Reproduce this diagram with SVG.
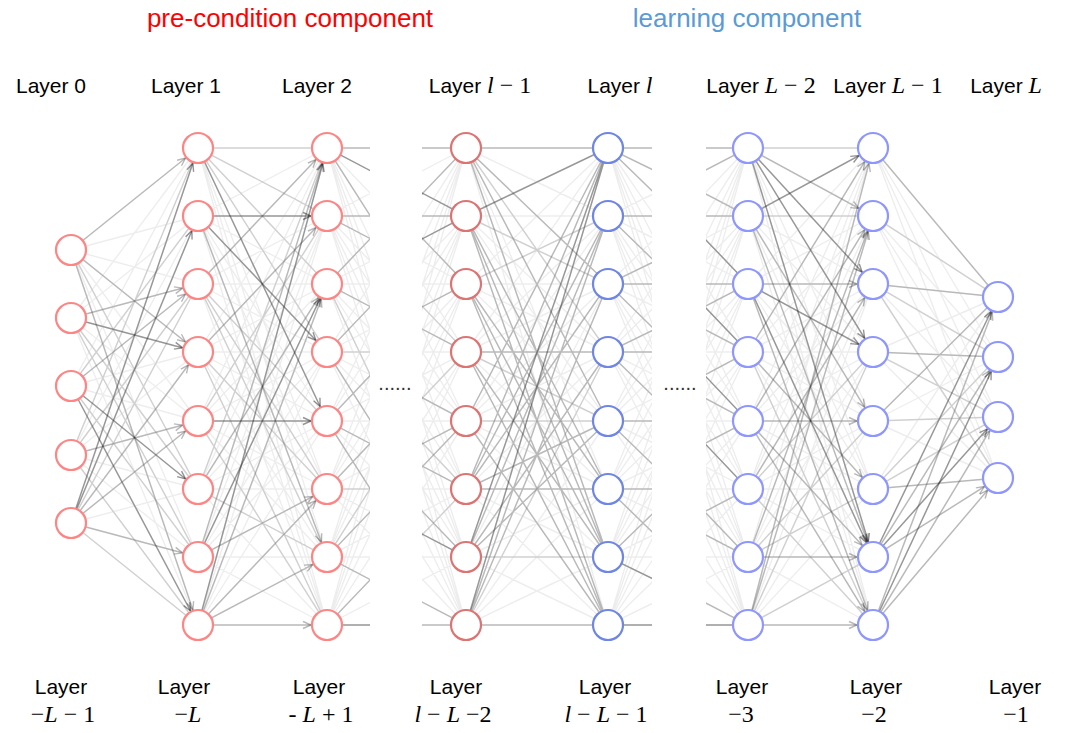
<svg xmlns="http://www.w3.org/2000/svg" xmlns:xlink="http://www.w3.org/1999/xlink" width="1080" height="733" viewBox="0 0 1080 733">
<style>
.t{font-family:"Liberation Sans",Arial,sans-serif;font-size:21px;fill:#000;text-anchor:middle}
.h{font-family:"Liberation Sans",Arial,sans-serif;font-size:26px;text-anchor:middle}
.v{font-family:"Liberation Serif","Times New Roman",serif;font-style:italic;font-size:24px}
.n{font-family:"Liberation Serif","Times New Roman",serif;font-size:24px}
.dots{font-family:"Liberation Sans",Arial,sans-serif;font-size:20px;fill:#333;text-anchor:middle}
.c path{fill:none;stroke:#000;stroke-width:1.5}
.e1{stroke-opacity:.12}
.e2,.a2{stroke-opacity:.22}
.e3,.a3{stroke-opacity:.36}
.a2{marker-end:url(#m2)}
.a3{marker-end:url(#m3)}
.node circle{fill:#fff;stroke-width:2.2}
.r circle{stroke:#ff8585}
.r2 circle{stroke:#dd7474}
.b circle{stroke:#8e96ff}
.b2 circle{stroke:#6f86e4}
</style>
<defs>
<marker id="m2" viewBox="0 0 32 10" markerWidth="32" markerHeight="10" refX="31" refY="5" orient="auto" markerUnits="userSpaceOnUse"><path d="M7,1.5L15,5L7,8.5" fill="none" stroke="#000" stroke-opacity=".28" stroke-width="1.4"/></marker>
<marker id="m3" viewBox="0 0 32 10" markerWidth="32" markerHeight="10" refX="31" refY="5" orient="auto" markerUnits="userSpaceOnUse"><path d="M7,1.5L15,5L7,8.5" fill="none" stroke="#000" stroke-opacity=".42" stroke-width="1.4"/></marker>
<path id="k88" fill="none" stroke="#000" stroke-opacity=".07" stroke-width="1.4" vector-effect="non-scaling-stroke" d="M0 148L100 148M0 148L100 216M0 148L100 284M0 148L100 352M0 148L100 421M0 148L100 489M0 148L100 557M0 148L100 625M0 216L100 148M0 216L100 216M0 216L100 284M0 216L100 352M0 216L100 421M0 216L100 489M0 216L100 557M0 216L100 625M0 284L100 148M0 284L100 216M0 284L100 284M0 284L100 352M0 284L100 421M0 284L100 489M0 284L100 557M0 284L100 625M0 352L100 148M0 352L100 216M0 352L100 284M0 352L100 352M0 352L100 421M0 352L100 489M0 352L100 557M0 352L100 625M0 421L100 148M0 421L100 216M0 421L100 284M0 421L100 352M0 421L100 421M0 421L100 489M0 421L100 557M0 421L100 625M0 489L100 148M0 489L100 216M0 489L100 284M0 489L100 352M0 489L100 421M0 489L100 489M0 489L100 557M0 489L100 625M0 557L100 148M0 557L100 216M0 557L100 284M0 557L100 352M0 557L100 421M0 557L100 489M0 557L100 557M0 557L100 625M0 625L100 148M0 625L100 216M0 625L100 284M0 625L100 352M0 625L100 421M0 625L100 489M0 625L100 557M0 625L100 625"/>
<path id="k58" fill="none" stroke="#000" stroke-opacity=".07" stroke-width="1.4" vector-effect="non-scaling-stroke" d="M0 250L100 148M0 250L100 216M0 250L100 284M0 250L100 352M0 250L100 421M0 250L100 489M0 250L100 557M0 250L100 625M0 318L100 148M0 318L100 216M0 318L100 284M0 318L100 352M0 318L100 421M0 318L100 489M0 318L100 557M0 318L100 625M0 386L100 148M0 386L100 216M0 386L100 284M0 386L100 352M0 386L100 421M0 386L100 489M0 386L100 557M0 386L100 625M0 455L100 148M0 455L100 216M0 455L100 284M0 455L100 352M0 455L100 421M0 455L100 489M0 455L100 557M0 455L100 625M0 523L100 148M0 523L100 216M0 523L100 284M0 523L100 352M0 523L100 421M0 523L100 489M0 523L100 557M0 523L100 625"/>
<path id="k84" fill="none" stroke="#000" stroke-opacity=".07" stroke-width="1.4" vector-effect="non-scaling-stroke" d="M0 148L100 297M0 148L100 357M0 148L100 417M0 148L100 478M0 216L100 297M0 216L100 357M0 216L100 417M0 216L100 478M0 284L100 297M0 284L100 357M0 284L100 417M0 284L100 478M0 352L100 297M0 352L100 357M0 352L100 417M0 352L100 478M0 421L100 297M0 421L100 357M0 421L100 417M0 421L100 478M0 489L100 297M0 489L100 357M0 489L100 417M0 489L100 478M0 557L100 297M0 557L100 357M0 557L100 417M0 557L100 478M0 625L100 297M0 625L100 357M0 625L100 417M0 625L100 478"/>
<clipPath id="cA"><rect x="327" y="0" width="43" height="733"/></clipPath>
<clipPath id="cB"><rect x="422" y="0" width="60" height="733"/></clipPath>
<clipPath id="cC"><rect x="608" y="0" width="44" height="733"/></clipPath>
<clipPath id="cD"><rect x="706" y="0" width="50" height="733"/></clipPath>
</defs>
<rect width="1080" height="733" fill="#fff"/>

<g id="titles">
<text class="h" x="290" y="27" fill="#ff0000">pre-condition component</text>
<text class="h" x="747" y="27" fill="#5b9bd5">learning component</text>
</g>

<g id="layer-labels-top">
<text class="t" x="51" y="93">Layer 0</text>
<text class="t" x="186" y="93">Layer 1</text>
<text class="t" x="317" y="93">Layer 2</text>
<text class="t" x="480" y="93">Layer <tspan class="v">l</tspan><tspan class="n"> − 1</tspan></text>
<text class="t" x="620" y="93">Layer <tspan class="v">l</tspan></text>
<text class="t" x="761" y="93">Layer <tspan class="v">L</tspan><tspan class="n"> − 2</tspan></text>
<text class="t" x="888" y="93">Layer <tspan class="v">L</tspan><tspan class="n"> − 1</tspan></text>
<text class="t" x="1006" y="93">Layer <tspan class="v">L</tspan></text>
</g>

<g id="connectors" class="c">
<use xlink:href="#k58" href="#k58" transform="translate(71,0) scale(1.27,1)"/>
<use xlink:href="#k88" href="#k88" transform="translate(198,0) scale(1.29,1)"/>
<use xlink:href="#k88" href="#k88" transform="translate(466,0) scale(1.42,1)"/>
<use xlink:href="#k88" href="#k88" transform="translate(748,0) scale(1.25,1)"/>
<use xlink:href="#k84" href="#k84" transform="translate(873,0) scale(1.25,1)"/>
<g clip-path="url(#cA)">
<use xlink:href="#k88" href="#k88" transform="translate(327,0) scale(1.3,1)"/>
<path class="e3" d="M327 148L457 216M327 625L457 625"/>
<path class="e2" d="M327 148L457 352M327 216L457 216M327 216L457 284M327 284L457 148M327 284L457 352M327 352L457 216M327 421L457 284M327 421L457 489M327 489L457 352M327 557L457 625M327 557L457 421M327 625L457 489M327 352L457 557M327 421L457 625M327 148L457 148"/>
<path class="e1" d="M327 352L457 352M327 489L457 489M327 284L457 557M327 557L457 352"/>
</g>
<g clip-path="url(#cB)">
<use xlink:href="#k88" href="#k88" transform="translate(336,0) scale(1.3,1)"/>
<path class="e3" d="M336 284L466 216M336 148L466 216M336 489L466 557"/>
<path class="e2" d="M336 284L466 148M336 148L466 148M336 216L466 216M336 352L466 284M336 284L466 352M336 557L466 421M336 421L466 557M336 625L466 625M336 557L466 625M336 421L466 489M336 489L466 421M336 352L466 421M336 148L466 284"/>
<path class="e1" d="M336 216L466 352M336 489L466 352M336 625L466 489M336 352L466 489"/>
</g>
<g clip-path="url(#cC)">
<use xlink:href="#k88" href="#k88" transform="translate(608,0) scale(1.4,1)"/>
<path class="e3" d="M608 625L748 625M608 557L748 625"/>
<path class="e2" d="M608 148L748 148M608 148L748 216M608 148L748 284M608 216L748 216M608 216L748 352M608 284L748 216M608 284L748 421M608 352L748 352M608 352L748 489M608 421L748 421M608 421L748 557M608 489L748 489M608 489L748 625M608 557L748 421M608 284L748 284M608 352L748 284"/>
</g>
<g clip-path="url(#cD)">
<use xlink:href="#k88" href="#k88" transform="translate(618,0) scale(1.3,1)"/>
<path class="e3" d="M618 148L748 284M618 216L748 352M618 284L748 421M618 625L748 625M618 352L748 489"/>
<path class="e2" d="M618 148L748 148M618 216L748 148M618 148L748 216M618 216L748 216M618 284L748 284M618 352L748 284M618 284L748 352M618 421L748 352M618 352L748 421M618 489L748 421M618 421L748 557M618 557L748 489M618 489L748 557M618 557L748 625"/>
</g>

<!-- layer 0 -> layer 1 -->
<path class="e1" d="M71 386L198 216M71 455L198 148M71 455L198 284M71 318L198 489M71 318L198 557M71 250L198 489M71 455L198 625M71 386L198 557M71 523L198 284M71 523L198 625"/>
<path class="a2" d="M71 250L198 148"/>
<path class="a2" d="M71 318L198 284"/>
<path class="a2" d="M71 455L198 421"/>
<path class="a2" d="M71 523L198 421"/>
<path class="a2" d="M71 523L198 557"/>
<path class="a2" d="M71 250L198 625"/>
<path class="a2" d="M71 250L198 352"/>
<path class="a2" d="M71 386L198 284"/>
<path class="a2" d="M71 523L198 352"/>
<path class="a3" d="M71 318L198 352"/>
<path class="a3" d="M71 523L198 148"/>
<path class="a3" d="M71 386L198 489"/>
<path class="a3" d="M71 386L198 625"/>
<path class="a3" d="M71 523L198 216"/>

<!-- layer 1 -> layer 2 -->
<path class="e1" d="M198 148L327 148M198 148L327 216M198 148L327 284M198 148L327 352M198 489L327 148M198 284L327 489M198 284L327 557M198 352L327 625M198 489L327 557M198 421L327 625M198 421L327 216M198 352L327 489M198 284L327 421"/>
<path class="a2" d="M198 625L327 625"/>
<path class="a2" d="M198 625L327 489"/>
<path class="a2" d="M198 625L327 557"/>
<path class="a2" d="M198 557L327 489"/>
<path class="a2" d="M198 284L327 148"/>
<path class="a2" d="M198 352L327 216"/>
<path class="a2" d="M198 557L327 148"/>
<path class="a2" d="M198 489L327 284"/>
<path class="a2" d="M198 625L327 284"/>
<path class="a2" d="M198 216L327 557"/>
<path class="a3" d="M198 216L327 216"/>
<path class="a3" d="M198 216L327 352"/>
<path class="a3" d="M198 148L327 421"/>
<path class="a3" d="M198 421L327 421"/>
<path class="a3" d="M198 625L327 148"/>
<path class="a3" d="M198 557L327 284"/>

<!-- layer l-1 -> layer l -->
<path class="e1" d="M466 421L608 421M466 557L608 557M466 148L608 352M466 216L608 284M466 625L608 352M466 284L608 216M466 352L608 421"/>
<path class="e2" d="M466 148L608 148M466 352L608 352M466 489L608 489M466 489L608 421M466 625L608 625M466 148L608 421M466 148L608 284M466 148L608 557M466 216L608 557M466 216L608 625M466 284L608 557M466 284L608 625M466 352L608 557M466 489L608 148M466 557L608 216M466 625L608 284M466 421L608 148M466 557L608 352M466 352L608 625M466 421L608 625M466 489L608 284M466 284L608 489M466 216L608 489M466 557L608 421M466 625L608 216M466 489L608 216"/>
<path class="e3" d="M466 216L608 148M466 625L608 148M466 557L608 148"/>

<!-- layer L-2 -> layer L-1 -->
<path class="e1" d="M748 148L873 148M748 216L873 216M748 489L873 352M748 557L873 421M748 625L873 557M748 557L873 489M748 625L873 352M748 352L873 625M748 489L873 625"/>
<path class="a2" d="M748 148L873 216"/>
<path class="a2" d="M748 284L873 284"/>
<path class="a2" d="M748 421L873 421"/>
<path class="a2" d="M748 557L873 557"/>
<path class="a2" d="M748 625L873 625"/>
<path class="a2" d="M748 625L873 148"/>
<path class="a2" d="M748 557L873 216"/>
<path class="a2" d="M748 625L873 216"/>
<path class="a2" d="M748 421L873 216"/>
<path class="a2" d="M748 352L873 148"/>
<path class="a2" d="M748 216L873 421"/>
<path class="a2" d="M748 352L873 489"/>
<path class="a2" d="M748 216L873 557"/>
<path class="a2" d="M748 421L873 557"/>
<path class="a2" d="M748 284L873 625"/>
<path class="a2" d="M748 421L873 625"/>
<path class="a2" d="M748 489L873 284"/>
<path class="a3" d="M748 216L873 148"/>
<path class="a3" d="M748 148L873 284"/>
<path class="a3" d="M748 148L873 352"/>
<path class="a3" d="M748 148L873 557"/>
<path class="a3" d="M748 284L873 352"/>
<path class="a3" d="M748 284L873 557"/>

<!-- layer L-1 -> layer L -->
<path class="e1" d="M873 421L998 417M873 216L998 297M873 489L998 417M873 352L998 417M873 284L998 357M873 489L998 357M873 284L998 478"/>
<path class="e2" d="M873 148L998 297M873 284L998 297M873 352L998 357M873 489L998 478M873 421L998 297"/>
<path class="a2" d="M873 557L998 478"/>
<path class="a2" d="M873 625L998 417"/>
<path class="a2" d="M873 625L998 478"/>
<path class="a2" d="M873 625L998 297"/>
<path class="a2" d="M873 557L998 357"/>
<path class="a3" d="M873 557L998 297"/>
<path class="a3" d="M873 557L998 417"/>
<path class="a3" d="M873 625L998 357"/>
</g>

<g id="nodes">
<g id="n0-0" class="node r"><circle cx="71" cy="250" r="15"/></g>
<g id="n0-1" class="node r"><circle cx="71" cy="318" r="15"/></g>
<g id="n0-2" class="node r"><circle cx="71" cy="386" r="15"/></g>
<g id="n0-3" class="node r"><circle cx="71" cy="455" r="15"/></g>
<g id="n0-4" class="node r"><circle cx="71" cy="523" r="15"/></g>

<g id="n1-0" class="node r"><circle cx="198" cy="148" r="15"/></g>
<g id="n1-1" class="node r"><circle cx="198" cy="216" r="15"/></g>
<g id="n1-2" class="node r"><circle cx="198" cy="284" r="15"/></g>
<g id="n1-3" class="node r"><circle cx="198" cy="352" r="15"/></g>
<g id="n1-4" class="node r"><circle cx="198" cy="421" r="15"/></g>
<g id="n1-5" class="node r"><circle cx="198" cy="489" r="15"/></g>
<g id="n1-6" class="node r"><circle cx="198" cy="557" r="15"/></g>
<g id="n1-7" class="node r"><circle cx="198" cy="625" r="15"/></g>

<g id="n2-0" class="node r"><circle cx="327" cy="148" r="15"/></g>
<g id="n2-1" class="node r"><circle cx="327" cy="216" r="15"/></g>
<g id="n2-2" class="node r"><circle cx="327" cy="284" r="15"/></g>
<g id="n2-3" class="node r"><circle cx="327" cy="352" r="15"/></g>
<g id="n2-4" class="node r"><circle cx="327" cy="421" r="15"/></g>
<g id="n2-5" class="node r"><circle cx="327" cy="489" r="15"/></g>
<g id="n2-6" class="node r"><circle cx="327" cy="557" r="15"/></g>
<g id="n2-7" class="node r"><circle cx="327" cy="625" r="15"/></g>

<g id="nl1-0" class="node r2"><circle cx="466" cy="148" r="15"/></g>
<g id="nl1-1" class="node r2"><circle cx="466" cy="216" r="15"/></g>
<g id="nl1-2" class="node r2"><circle cx="466" cy="284" r="15"/></g>
<g id="nl1-3" class="node r2"><circle cx="466" cy="352" r="15"/></g>
<g id="nl1-4" class="node r2"><circle cx="466" cy="421" r="15"/></g>
<g id="nl1-5" class="node r2"><circle cx="466" cy="489" r="15"/></g>
<g id="nl1-6" class="node r2"><circle cx="466" cy="557" r="15"/></g>
<g id="nl1-7" class="node r2"><circle cx="466" cy="625" r="15"/></g>

<g id="nl-0" class="node b2"><circle cx="608" cy="148" r="15"/></g>
<g id="nl-1" class="node b2"><circle cx="608" cy="216" r="15"/></g>
<g id="nl-2" class="node b2"><circle cx="608" cy="284" r="15"/></g>
<g id="nl-3" class="node b2"><circle cx="608" cy="352" r="15"/></g>
<g id="nl-4" class="node b2"><circle cx="608" cy="421" r="15"/></g>
<g id="nl-5" class="node b2"><circle cx="608" cy="489" r="15"/></g>
<g id="nl-6" class="node b2"><circle cx="608" cy="557" r="15"/></g>
<g id="nl-7" class="node b2"><circle cx="608" cy="625" r="15"/></g>

<g id="nL2-0" class="node b"><circle cx="748" cy="148" r="15"/></g>
<g id="nL2-1" class="node b"><circle cx="748" cy="216" r="15"/></g>
<g id="nL2-2" class="node b"><circle cx="748" cy="284" r="15"/></g>
<g id="nL2-3" class="node b"><circle cx="748" cy="352" r="15"/></g>
<g id="nL2-4" class="node b"><circle cx="748" cy="421" r="15"/></g>
<g id="nL2-5" class="node b"><circle cx="748" cy="489" r="15"/></g>
<g id="nL2-6" class="node b"><circle cx="748" cy="557" r="15"/></g>
<g id="nL2-7" class="node b"><circle cx="748" cy="625" r="15"/></g>

<g id="nL1-0" class="node b"><circle cx="873" cy="148" r="15"/></g>
<g id="nL1-1" class="node b"><circle cx="873" cy="216" r="15"/></g>
<g id="nL1-2" class="node b"><circle cx="873" cy="284" r="15"/></g>
<g id="nL1-3" class="node b"><circle cx="873" cy="352" r="15"/></g>
<g id="nL1-4" class="node b"><circle cx="873" cy="421" r="15"/></g>
<g id="nL1-5" class="node b"><circle cx="873" cy="489" r="15"/></g>
<g id="nL1-6" class="node b"><circle cx="873" cy="557" r="15"/></g>
<g id="nL1-7" class="node b"><circle cx="873" cy="625" r="15"/></g>

<g id="nL-0" class="node b"><circle cx="998" cy="297" r="15"/></g>
<g id="nL-1" class="node b"><circle cx="998" cy="357" r="15"/></g>
<g id="nL-2" class="node b"><circle cx="998" cy="417" r="15"/></g>
<g id="nL-3" class="node b"><circle cx="998" cy="478" r="15"/></g>
</g>

<g id="ellipses">
<text class="dots" x="395" y="390">......</text>
<text class="dots" x="680" y="390">......</text>
</g>

<g id="layer-labels-bottom">
<text class="t" x="61" y="694">Layer</text>
<text class="t" x="63" y="722"><tspan class="n">−</tspan><tspan class="v">L</tspan><tspan class="n"> − 1</tspan></text>
<text class="t" x="184" y="694">Layer</text>
<text class="t" x="188" y="722"><tspan class="n">−</tspan><tspan class="v">L</tspan></text>
<text class="t" x="319" y="694">Layer</text>
<text class="t" x="321" y="722"><tspan class="n">- </tspan><tspan class="v">L</tspan><tspan class="n"> + 1</tspan></text>
<text class="t" x="456" y="694">Layer</text>
<text class="t" x="453" y="722"><tspan class="v">l</tspan><tspan class="n"> − </tspan><tspan class="v">L</tspan><tspan class="n"> −2</tspan></text>
<text class="t" x="605" y="694">Layer</text>
<text class="t" x="606" y="722"><tspan class="v">l</tspan><tspan class="n"> − </tspan><tspan class="v">L</tspan><tspan class="n"> − 1</tspan></text>
<text class="t" x="742" y="694">Layer</text>
<text class="t" x="741" y="722"><tspan class="n">−3</tspan></text>
<text class="t" x="876" y="694">Layer</text>
<text class="t" x="874" y="722"><tspan class="n">−2</tspan></text>
<text class="t" x="1015" y="694">Layer</text>
<text class="t" x="1016" y="722"><tspan class="n">−1</tspan></text>
</g>
</svg>
